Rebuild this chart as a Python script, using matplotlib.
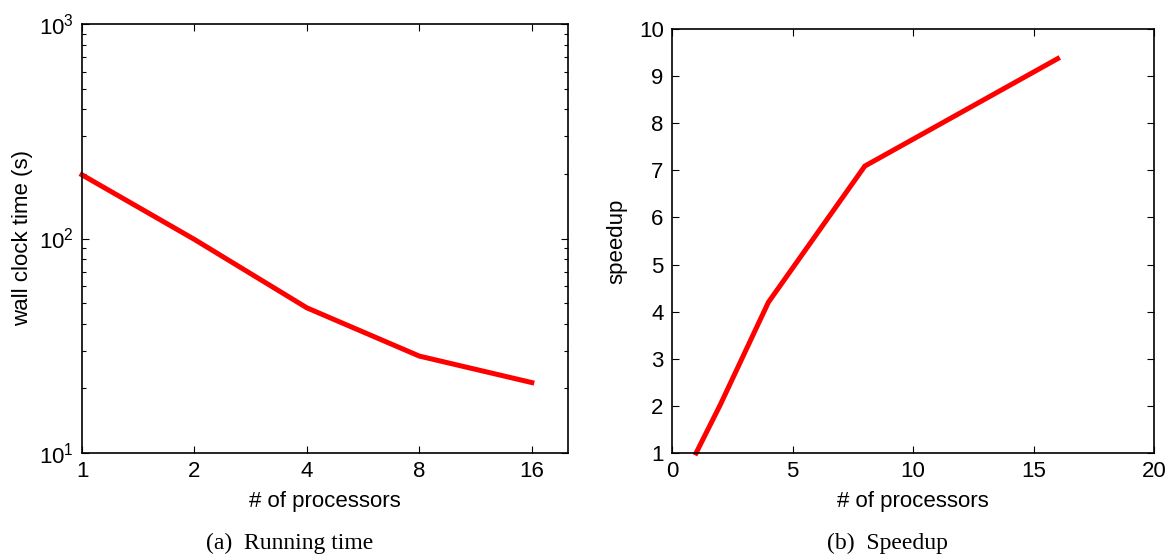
import matplotlib
matplotlib.use("Agg")
import matplotlib.pyplot as plt
from matplotlib.ticker import FixedLocator, NullLocator, FixedFormatter, LogLocator

plt.rcParams['font.family'] = ['Liberation Sans', 'DejaVu Sans']
plt.rcParams['mathtext.fontset'] = 'custom'
plt.rcParams['mathtext.rm'] = 'Liberation Sans'

# Strong-scaling measurements
processors = [1, 2, 4, 8, 16]
wall_time = [198, 99, 47.5, 28.3, 21.3]        # seconds
speedup = [1.0, 2.02, 4.2, 7.09, 9.37]

proc_ticks = [1, 2, 4, 8, 16]
proc_ticklabels = ['1', '2', '4', '8', '16']
speedup_xticks = [0, 5, 10, 15, 20]
speedup_yticks = list(range(1, 11))

W, H = 1170, 560
fig = plt.figure(figsize=(W / 100, H / 100), dpi=100)

def box(x0, y0, x1, y1):
    return [x0 / W, 1 - y1 / H, (x1 - x0) / W, (y1 - y0) / H]

FS = 16
line_kw = dict(color='#ff0000', lw=3.6, solid_joinstyle='miter', clip_on=False)

def style(ax):
    ax.tick_params(which='both', direction='in', top=True, right=True,
                   labelsize=FS, width=0.8)
    ax.tick_params(which='major', length=5, pad=6)
    ax.tick_params(which='minor', length=3)
    for s in ax.spines.values():
        s.set_linewidth(1.2)

# (a) running time, log-log
ax1 = fig.add_axes(box(82, 24, 568, 453))
ax1.plot(processors, wall_time, **line_kw)
ax1.set_xscale('log', base=2)
ax1.set_yscale('log')
ax1.set_xlim(1, 20)
ax1.set_ylim(10, 1000)
ax1.xaxis.set_major_locator(FixedLocator(proc_ticks))
ax1.xaxis.set_major_formatter(FixedFormatter(proc_ticklabels))
ax1.xaxis.set_minor_locator(NullLocator())
ax1.yaxis.set_minor_locator(LogLocator(base=10, subs=range(2, 10)))
style(ax1)
ax1.set_xlabel('# of processors', fontsize=FS, labelpad=6)
ax1.set_ylabel('wall clock time (s)', fontsize=FS, labelpad=4)

# (b) speedup
ax2 = fig.add_axes(box(672, 29, 1154, 453))
ax2.plot(processors, speedup, **line_kw)
ax2.set_xlim(0, 20)
ax2.set_ylim(1, 10)
ax2.set_xticks(speedup_xticks)
ax2.set_yticks(speedup_yticks)
style(ax2)
ax2.set_xlabel('# of processors', fontsize=FS, labelpad=6)
ax2.set_ylabel('speedup', fontsize=FS, labelpad=8)

cap_kw = dict(fontsize=17, family=['Liberation Serif', 'DejaVu Serif'],
              ha='center', va='center')
fig.text(290 / W, 1 - 543 / H, '(a)  Running time', **cap_kw)
fig.text(887 / W, 1 - 543 / H, '(b)  Speedup', **cap_kw)

fig.savefig('out.png', dpi=100, facecolor='white')
